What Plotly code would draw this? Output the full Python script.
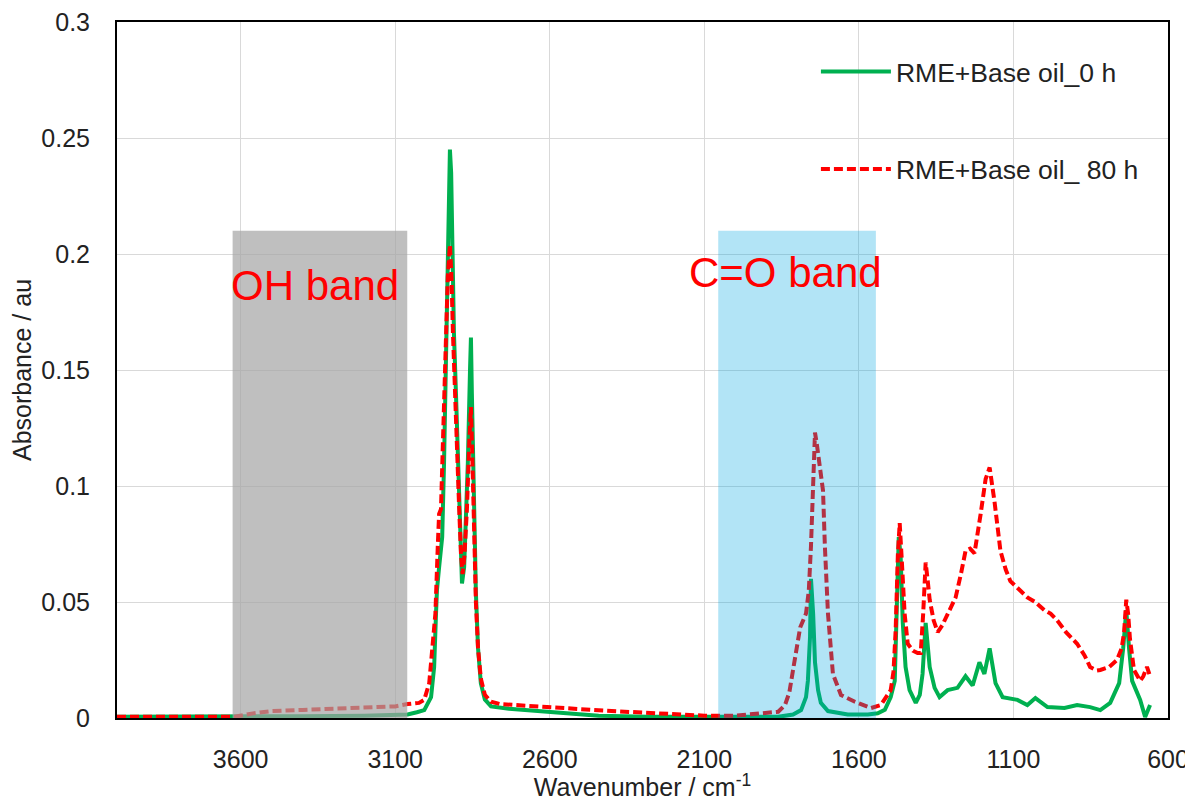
import plotly.graph_objects as go

WN_0H = [4000, 3800, 3620, 3400, 3200, 3100, 3060, 3030, 3006, 2984, 2974, 2968,
         2965, 2958, 2955, 2948, 2942, 2935, 2929, 2923, 2919, 2916, 2910, 2903,
         2897, 2890, 2884, 2877, 2871, 2865, 2858, 2855, 2852, 2845, 2839, 2832,
         2823, 2810, 2790, 2732, 2635, 2539, 2442, 2281, 1861, 1813, 1787, 1771,
         1765, 1758, 1755, 1748, 1742, 1732, 1723, 1700, 1636, 1571, 1539, 1516,
         1497, 1484, 1477, 1471, 1465, 1458, 1449, 1436, 1416, 1403, 1394, 1384,
         1371, 1355, 1339, 1313, 1281, 1255, 1232, 1210, 1194, 1177, 1158, 1135,
         1087, 1055, 1029, 990, 935, 894, 852, 819, 787, 758, 745, 735, 726, 716,
         690, 674, 658]
ABS_0H = [0.0005, 0.0005, 0.0005, 0.0008, 0.001, 0.0012, 0.0015, 0.0025, 0.0034, 0.009, 0.022, 0.045,
          0.055, 0.065, 0.07, 0.078, 0.11, 0.16, 0.21, 0.245, 0.235, 0.2, 0.166, 0.138,
          0.114, 0.09, 0.058, 0.065, 0.085, 0.11, 0.15, 0.164, 0.14, 0.093, 0.054, 0.03,
          0.015, 0.008, 0.005, 0.004, 0.003, 0.002, 0.001, 0.0005, 0.0005, 0.0015, 0.0034, 0.009,
          0.016, 0.035, 0.06, 0.045, 0.024, 0.012, 0.0065, 0.003, 0.0015, 0.0015, 0.002, 0.0035,
          0.009, 0.016, 0.045, 0.078, 0.07, 0.041, 0.022, 0.012, 0.0065, 0.01, 0.019, 0.041,
          0.022, 0.013, 0.009, 0.012, 0.013, 0.018, 0.014, 0.024, 0.019, 0.03, 0.015, 0.009,
          0.0078, 0.0056, 0.0086, 0.0047, 0.0043, 0.0056, 0.0047, 0.0034, 0.0065, 0.015, 0.03, 0.0465, 0.03, 0.016,
          0.0078, 0.0004, 0.0056]

WN_80H = [4000, 3800, 3620, 3560, 3500, 3400, 3300, 3200, 3100, 3060, 3023, 3006,
          2990, 2980, 2970, 2962, 2958, 2952, 2945, 2938, 2930, 2923, 2918, 2913,
          2907, 2900, 2893, 2887, 2882, 2876, 2868, 2860, 2855, 2850, 2845, 2839,
          2832, 2823, 2810, 2790, 2760, 2650, 2550, 2400, 2250, 2100, 2000, 1900,
          1861, 1839, 1825, 1813, 1800, 1790, 1771, 1762, 1755, 1748, 1742, 1736,
          1726, 1716, 1710, 1700, 1684, 1658, 1613, 1561, 1529, 1497, 1488, 1481,
          1474, 1468, 1462, 1452, 1442, 1425, 1410, 1400, 1392, 1384, 1378, 1371,
          1358, 1345, 1330, 1313, 1287, 1270, 1255, 1240, 1226, 1206, 1190, 1177,
          1161, 1142, 1125, 1110, 1080, 1055, 1030, 1000, 980, 958, 930, 894,
          870, 852, 830, 819, 790, 765, 750, 742, 735, 729, 723, 710,
          690, 680, 668, 662, 658]
ABS_80H = [0.0005, 0.0005, 0.0005, 0.002, 0.003, 0.0035, 0.004, 0.0045, 0.005, 0.006, 0.0065, 0.0078,
           0.015, 0.03, 0.045, 0.075, 0.088, 0.09, 0.12, 0.16, 0.19, 0.204, 0.19, 0.165,
           0.14, 0.11, 0.09, 0.07, 0.062, 0.07, 0.09, 0.12, 0.134, 0.11, 0.08, 0.05,
           0.03, 0.017, 0.01, 0.007, 0.006, 0.005, 0.004, 0.003, 0.002, 0.001, 0.001, 0.002,
           0.0027, 0.0056, 0.011, 0.0207, 0.032, 0.039, 0.045, 0.055, 0.074, 0.105, 0.123, 0.118,
           0.107, 0.098, 0.074, 0.045, 0.019, 0.0099, 0.007, 0.0043, 0.0056, 0.012, 0.02, 0.038,
           0.07, 0.084, 0.07, 0.045, 0.032, 0.029, 0.028, 0.028, 0.045, 0.067, 0.06, 0.051,
           0.042, 0.037, 0.04, 0.045, 0.052, 0.062, 0.072, 0.073, 0.071, 0.088, 0.103, 0.108,
           0.093, 0.072, 0.064, 0.059, 0.055, 0.052, 0.05, 0.0465, 0.045, 0.042, 0.037, 0.032,
           0.027, 0.022, 0.0205, 0.0207, 0.022, 0.025, 0.03, 0.037, 0.051, 0.045, 0.034, 0.0207,
           0.016, 0.018, 0.022, 0.02, 0.018]

# bandas sombreadas (numero de onda inicio/fin, altura) y etiquetas
BANDAS = [("OH band", 3626, 3061, 0.21, 3358, 0.1866),
          ("C=O band", 2055, 1545, 0.21, 1839, 0.1922)]
COR_BANDA = {"OH band": "rgba(164,164,164,0.7)", "C=O band": "rgba(0,167,225,0.3)"}

FONTE = "Liberation Sans, Arial, sans-serif"

fig = go.Figure()
fig.add_trace(go.Scatter(x=WN_0H, y=ABS_0H, mode="lines", name="RME+Base oil_0 h",
                         line=dict(color="#00b050", width=4), legendgroup="a"))
fig.add_trace(go.Scatter(x=WN_80H, y=ABS_80H, mode="lines", name="RME+Base oil_ 80 h",
                         line=dict(color="#ff0000", width=4, dash="9px,4px"), legendgroup="b"))

# fundo branco da legenda (tapa a grelha)
fig.add_shape(type="rect", xref="paper", yref="paper", x0=0.6375, x1=1, y0=0.727, y1=1,
              fillcolor="white", line_width=0, layer="between")

for nome, x0, x1, topo, tx, ty in BANDAS:
    fig.add_shape(type="rect", xref="x", yref="y", x0=x0, x1=x1, y0=0, y1=topo,
                  fillcolor=COR_BANDA[nome], line_width=0, layer="above")
    fig.add_annotation(x=tx, y=ty, text=nome, showarrow=False,
                       font=dict(family=FONTE, size=42, color="#ff0000"))

eixo = dict(showline=True, linecolor="black", linewidth=2, mirror=True,
            gridcolor="#d9d9d9", gridwidth=1, zeroline=False, ticks="",
            automargin=False, ticklabeloverflow="allow",
            tickfont=dict(family=FONTE, size=25, color="#222"),
            title_font=dict(family=FONTE, size=25, color="#222"))

fig.update_xaxes(eixo, range=[4000, 600], tickvals=[3600, 3100, 2600, 2100, 1600, 1100, 600],
                 title_text="Wavenumber / cm<sup>-1</sup>", title_standoff=2, ticklabelstandoff=18)
fig.update_yaxes(eixo, range=[0, 0.3], dtick=0.05, tickformat="~g",
                 title_text="Absorbance / au", title_standoff=4, ticklabelstandoff=20)

# a pagina tem 8px de margem no body: a figura fica com 1185x793
fig.update_layout(
    width=1185, height=793,
    margin=dict(l=109, r=25, t=14, b=83),
    plot_bgcolor="white", paper_bgcolor="white",
    font=dict(family=FONTE),
    legend=dict(x=0.665, y=0.963, xanchor="left", yanchor="top", bgcolor="rgba(0,0,0,0)",
                font=dict(family=FONTE, size=26.5, color="#222"), itemwidth=70,
                tracegroupgap=60, traceorder="grouped"),
)

fig.write_html("out.html")
